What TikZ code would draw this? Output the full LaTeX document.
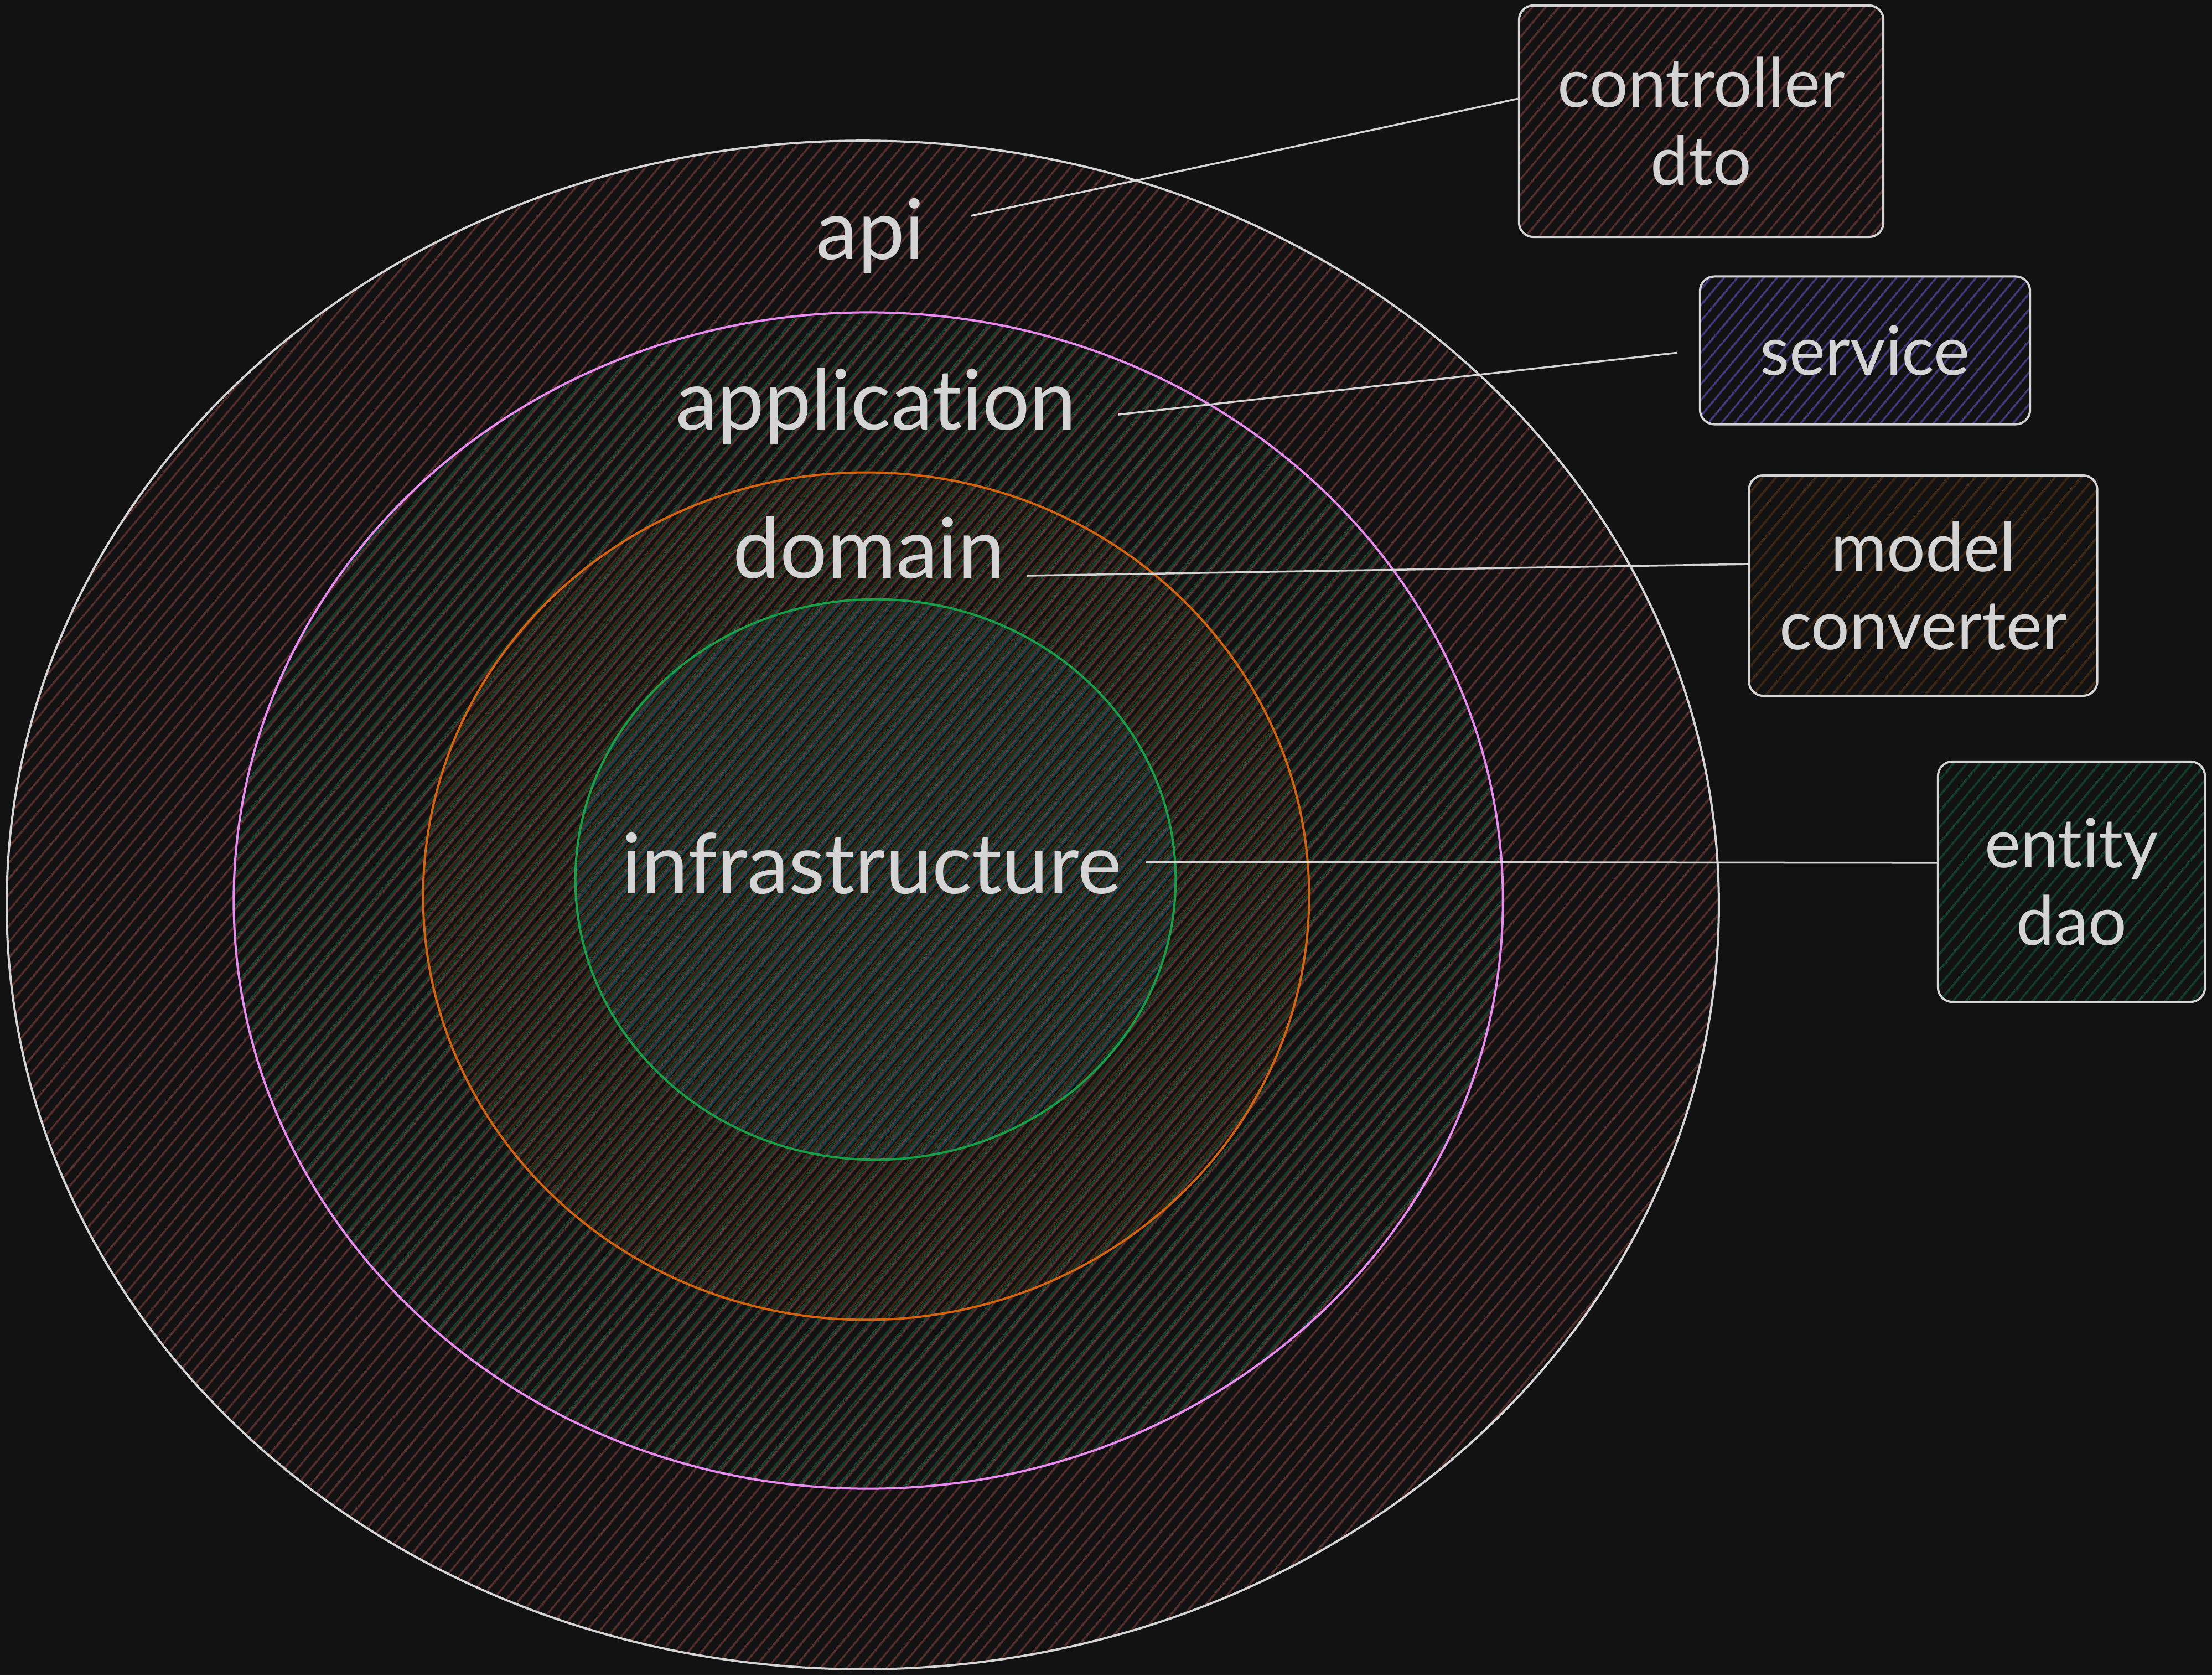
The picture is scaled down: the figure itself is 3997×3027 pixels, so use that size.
\documentclass[tikz,border=0pt]{standalone}
\usepackage{fontspec}
\setmainfont{Lato}[Ligatures=NoCommon]
\definecolor{bgdark}{RGB}{18,18,18}
\definecolor{inkgray}{RGB}{212,212,212}
\definecolor{apired}{RGB}{96,44,44}
\definecolor{appgreen}{RGB}{10,68,42}
\definecolor{domorange}{RGB}{68,38,10}
\definecolor{infteal}{RGB}{6,72,82}
\definecolor{svcpurple}{RGB}{72,58,145}
\definecolor{apppink}{RGB}{232,138,240}
\definecolor{domline}{RGB}{214,100,12}
\definecolor{infline}{RGB}{22,160,72}
\usetikzlibrary{patterns.meta,positioning}

\begin{document}
\begin{tikzpicture}[x=0.01cm,y=-0.01cm,
  hatch/.style={pattern={Lines[angle=50,distance=0.18cm,xshift=#1,line width=0.03cm]}},
  layerlbl/.style={text=inkgray,font=\fontsize{43}{50}\selectfont,inner sep=0pt},
  pkgbox/.style={draw=inkgray,line width=0.04cm,rounded corners=0.26cm,align=center,
    text=inkgray,font=\fontsize{35}{40}\selectfont},
  pkglink/.style={inkgray,line width=0.035cm}
]
  \fill[bgdark] (0,0) rectangle (3997,3027);
  \useasboundingbox (0,0) rectangle (3997,3027);
  % Layers
  \draw[inkgray,line width=0.04cm,hatch=0cm,pattern color=apired]
    (1559,1635) ellipse [x radius=15.46cm,y radius=13.8cm];
  \draw[apppink,line width=0.04cm,hatch=0.05cm,pattern color=appgreen]
    (1569,1627) ellipse [x radius=11.46cm,y radius=10.62cm];
  \draw[domline,line width=0.04cm,hatch=0.1cm,pattern color=domorange]
    (1565,1619) ellipse [x radius=8.0cm,y radius=7.65cm];
  \draw[infline,line width=0.04cm,hatch=0.15cm,pattern color=infteal]
    (1582,1589) ellipse [x radius=5.42cm,y radius=5.06cm];
  \node[layerlbl] (apilbl) at (1573,426) {api};
  \node[layerlbl] (applbl) at (1583,734) {application};
  \node[layerlbl] (domlbl) at (1570,989) {domain};
  \node[layerlbl] (inflbl) at (1575,1560) {infrastructure};
  % Packages
  \node[pkgbox,hatch=0cm,pattern color=apired,minimum width=6.58cm,minimum height=4.18cm]
    (ctrl) at (3074,219) {controller\\dto};
  \node[pkgbox,hatch=0cm,pattern color=svcpurple,minimum width=5.96cm,minimum height=2.67cm]
    (svc) at (3370,633) {service};
  \node[pkgbox,hatch=0cm,pattern color=domorange,minimum width=6.29cm,minimum height=3.98cm]
    (model) at (3475,1058) {model\\converter};
  \node[pkgbox,hatch=0cm,pattern color=appgreen,minimum width=4.82cm,minimum height=4.34cm]
    (entity) at (3743,1593) {entity\\dao};
  % Links
  \coordinate (apitail) at (1754,390);
  \coordinate (apptail) at (2021,749);
  \coordinate (domtail) at (1856,1040);
  \coordinate (inftail) at (2070,1557);
  \draw[pkglink] (apitail) -- (ctrl.173);
  \draw[pkglink,shorten >=0.39cm] (apptail) -- (svc.west);
  \draw[pkglink] (domtail) -- (model.173);
  \draw[pkglink] (inftail) -- (entity.172);
\end{tikzpicture}
\end{document}
